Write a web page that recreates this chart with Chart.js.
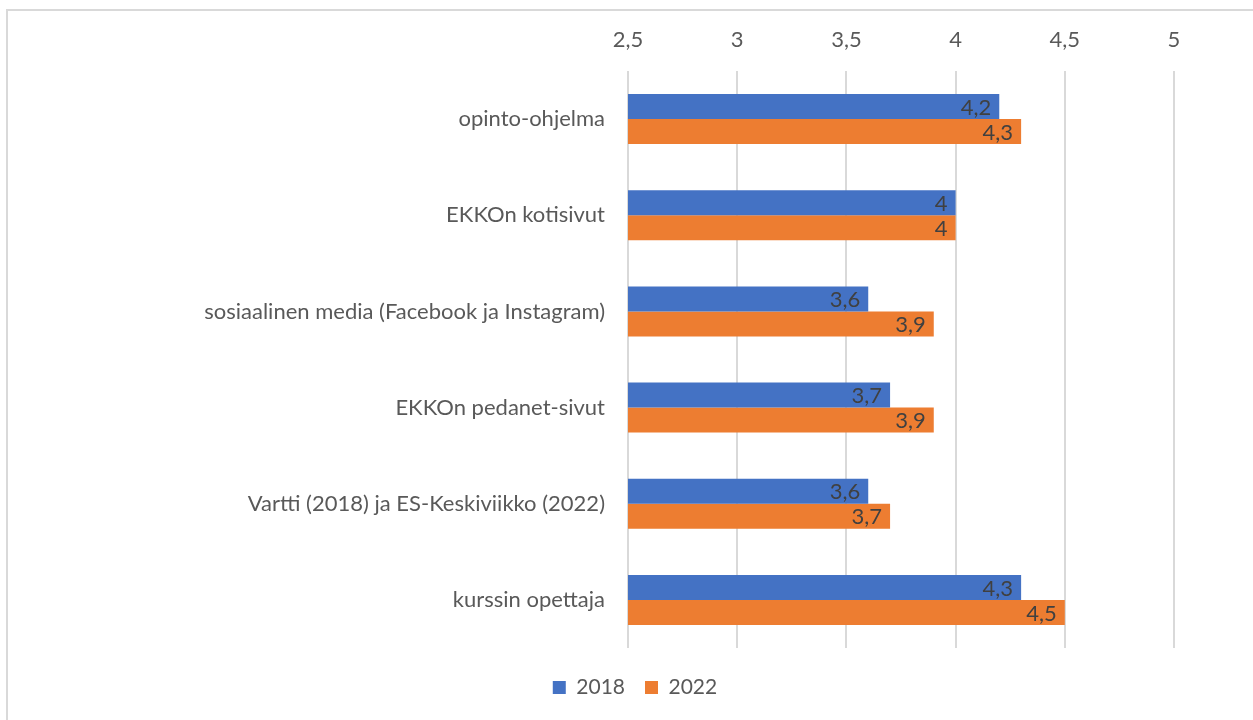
<!DOCTYPE html>
<html>
<head>
<meta charset="utf-8">
<script src="https://cdn.jsdelivr.net/npm/chart.js@4/dist/chart.umd.min.js"></script>
<style>
  html, body { margin: 0; padding: 0; background: #fff; }
  #wrap { position: relative; width: 1253px; height: 720px; }
  #frame { position: absolute; left: 6px; top: 9px; width: 1300px; height: 800px;
           border-left: 2px solid #d9d9d9; border-top: 2px solid #d9d9d9; }
  canvas { position: absolute; left: 0; top: 0; }
</style>
</head>
<body>
<div id="wrap">
  <div id="frame"></div>
  <canvas id="chart" width="1253" height="720"></canvas>
</div>
<script>
var categories = [
	'opinto-ohjelma',
	'EKKOn kotisivut',
	'sosiaalinen media (Facebook ja Instagram)',
	'EKKOn pedanet-sivut',
	'Vartti (2018) ja ES-Keskiviikko (2022)',
	'kurssin opettaja'
];
var series2018 = [4.2, 4, 3.6, 3.7, 3.6, 4.3];
var series2022 = [4.3, 4, 3.9, 3.9, 3.7, 4.5];
var seriesNames = ['2018', '2022'];
var tickMin = 2.5, tickMax = 5, tickStep = 0.5;

function fi(v) {
	return String(Math.round(v * 10) / 10).replace('.', ',');
}

// values written inside the end of each bar
var barLabels = {
	id: 'barLabels',
	afterDatasetsDraw: function(chart) {
		var ctx = chart.ctx;
		ctx.save();
		ctx.font = '22px Lato';
		ctx.fillStyle = '#404040';
		ctx.textAlign = 'right';
		ctx.textBaseline = 'middle';
		chart.data.datasets.forEach(function(ds, i) {
			chart.getDatasetMeta(i).data.forEach(function(bar, j) {
				ctx.fillText(fi(ds.data[j]), bar.x - 8, bar.y + 1);
			});
		});
		ctx.restore();
	}
};

var PAD_LEFT = 96, PAD_TOP = 10;

new Chart(document.getElementById('chart'), {
	type: 'bar',
	data: {
		labels: categories,
		datasets: [
			{ label: seriesNames[0], data: series2018, backgroundColor: '#4472C4' },
			{ label: seriesNames[1], data: series2022, backgroundColor: '#ED7D31' }
		]
	},
	options: {
		indexAxis: 'y',
		responsive: false,
		animation: false,
		layout: { padding: { left: PAD_LEFT, right: 79, top: PAD_TOP, bottom: 12 } },
		datasets: { bar: { categoryPercentage: 0.52, barPercentage: 1 } },
		scales: {
			x: {
				position: 'top',
				min: tickMin,
				max: tickMax,
				ticks: {
					stepSize: tickStep,
					color: '#595959',
					font: { family: 'Lato', size: 22 },
					padding: 18,
					callback: function(v) { return fi(v); }
				},
				grid: { color: '#d9d9d9', lineWidth: 2, drawTicks: false },
				border: { display: false },
				afterFit: function(scale) { scale.height = 71 - PAD_TOP; }
			},
			y: {
				ticks: {
					color: '#595959',
					font: { family: 'Lato', size: 22 },
					padding: 23
				},
				grid: { display: false, drawTicks: false },
				border: { display: false },
				afterFit: function(scale) { scale.width = 628 - PAD_LEFT; }
			}
		},
		plugins: {
			legend: {
				position: 'bottom',
				title: { display: true, text: '', font: { size: 1, lineHeight: 1 }, padding: { top: 8, bottom: 0 } },
				labels: {
					boxWidth: 13,
					boxHeight: 13,
					color: '#595959',
					font: { family: 'Lato', size: 21 },
					padding: 20
				}
			},
			tooltip: { enabled: false }
		}
	},
	plugins: [barLabels]
});
</script>
</body>
</html>
